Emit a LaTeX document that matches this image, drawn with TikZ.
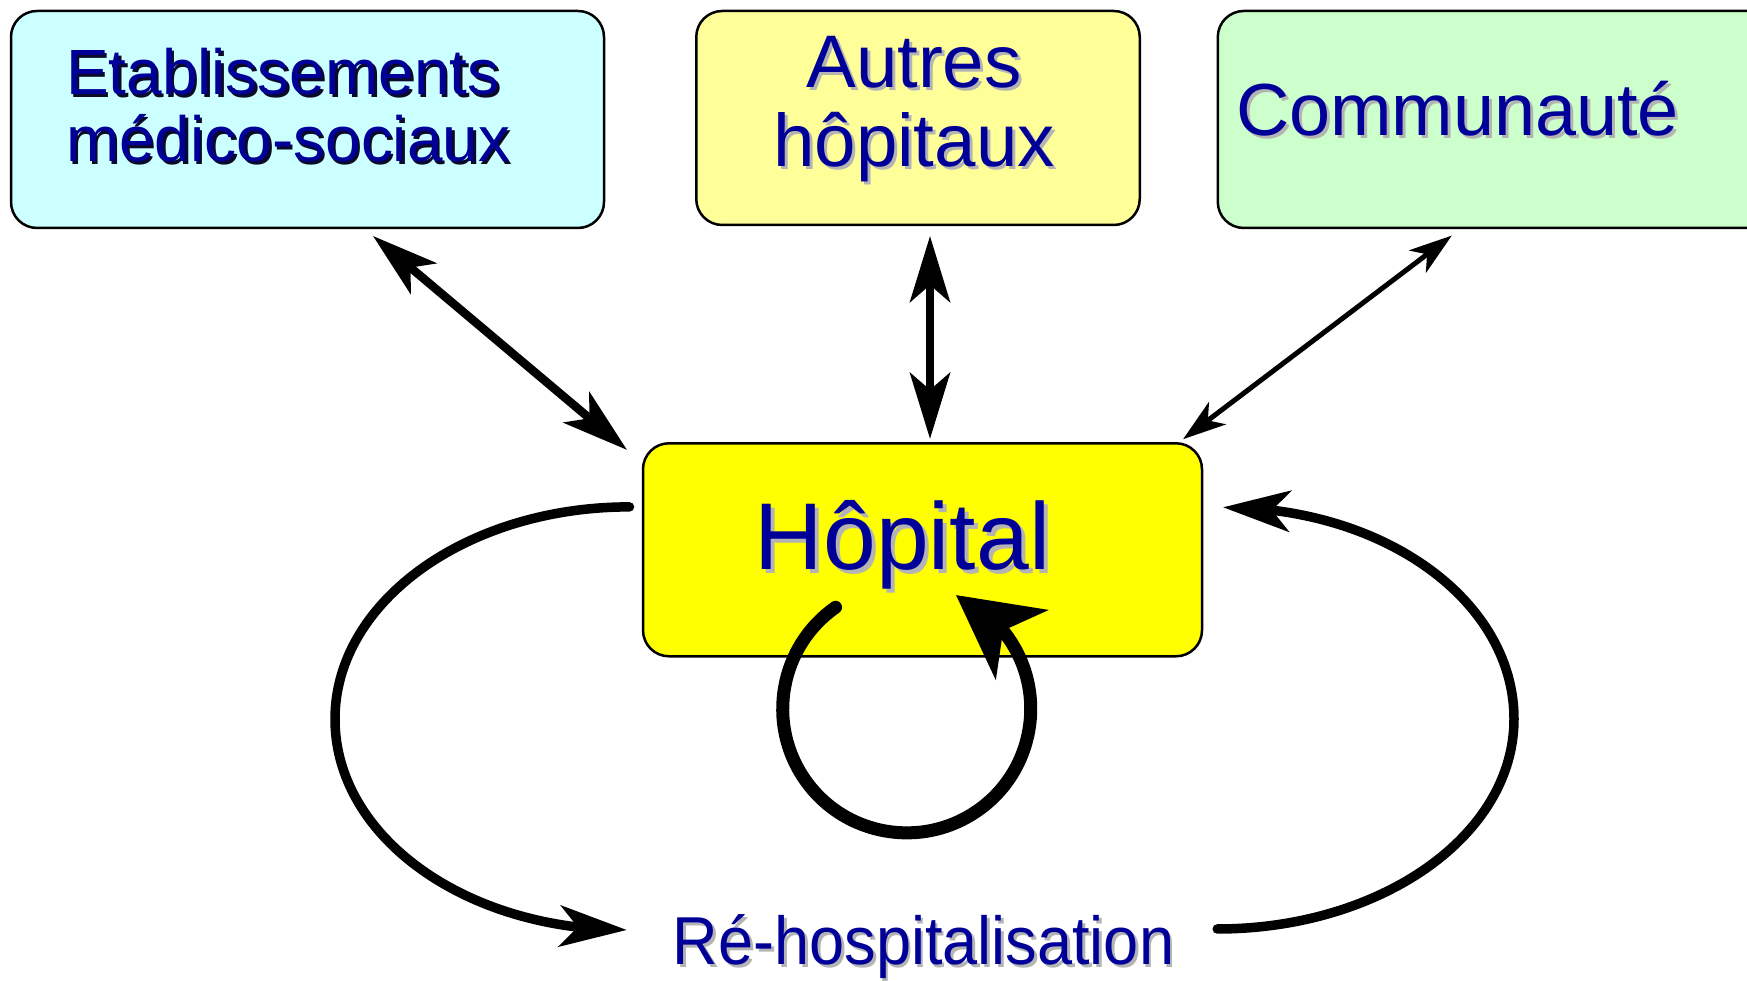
\documentclass[tikz,border=0pt]{standalone}
\usepackage{fontspec}
\setmainfont{Liberation Sans}
\usetikzlibrary{arrows.meta,bending}
\definecolor{txtblue}{RGB}{0,0,153}
\definecolor{shgrey}{RGB}{180,180,180}
\definecolor{shdark}{RGB}{10,10,40}
\definecolor{boxcyan}{RGB}{204,255,255}
\definecolor{boxpale}{RGB}{255,255,153}
\definecolor{boxgreen}{RGB}{204,255,204}
\definecolor{boxyellow}{RGB}{255,255,0}
\newcommand{\shtxt}[3]{\leavevmode\rlap{\kern#2\raisebox{-#2}{\textcolor{#1}{#3}}}#3}
\begin{document}
\begin{tikzpicture}[x=0.1mm,y=0.1mm,
  boxstyle/.style={draw=black, line width=0.25mm, rounded corners=2.6mm, inner sep=0, outer sep=0},
  lbl/.style={inner sep=0, outer sep=0, text=txtblue},
  linkbig/.style={line width=0.85mm, arrows={Stealth[length=6.6mm,width=4mm,inset=1.7mm]-Stealth[length=6.6mm,width=4mm,inset=1.7mm]}},
  linksmall/.style={line width=0.5mm, arrows={Stealth[length=4.3mm,width=2.8mm,inset=1.2mm]-Stealth[length=4.3mm,width=2.8mm,inset=1.2mm]}},
  loopline/.style={line width=0.95mm, line cap=round, arrows={-Stealth[length=6.7mm,width=4.1mm,inset=1.8mm]}},
  selfloop/.style={line width=1.3mm, line cap=round, arrows={-Stealth[length=8.2mm,width=8.6mm,inset=2.3mm,flex]}}]

\useasboundingbox (0,0) rectangle (1747,981);

% boxes
\node[boxstyle, fill=boxcyan, minimum width=59.3mm, minimum height=21.7mm] (etab) at (307.5,861.5) {};
\node[boxstyle, fill=boxpale, minimum width=44.35mm, minimum height=21.4mm] (autres) at (918,863) {};
\node[boxstyle, fill=boxgreen, minimum width=58mm, minimum height=21.7mm] (comm) at (1507.8,861.5) {};
\node[boxstyle, fill=boxyellow, minimum width=55.9mm, minimum height=21.3mm] (hosp) at (922.5,431.2) {};

% labels
\node[lbl, anchor=base west, font=\fontsize{18.2pt}{18.2pt}\selectfont] (etabA) at (66,886) {\shtxt{shdark}{0.25mm}{Etablissements}};
\node[lbl, anchor=base west, font=\fontsize{18.2pt}{18.2pt}\selectfont] (etabB) at (66,819) {\shtxt{shdark}{0.25mm}{médico-sociaux}};
\node[lbl, anchor=base, font=\fontsize{21.2pt}{21.2pt}\selectfont] (autresA) at (914,893) {\shtxt{shgrey}{0.3mm}{Autres}};
\node[lbl, anchor=base, font=\fontsize{21.2pt}{21.2pt}\selectfont] (autresB) at (914,814) {\shtxt{shgrey}{0.3mm}{hôpitaux}};
\node[lbl, anchor=base west, font=\fontsize{21pt}{21pt}\selectfont] (commA) at (1236,845) {\shtxt{shgrey}{0.3mm}{Communauté}};
\node[lbl, anchor=base, font=\fontsize{27pt}{27pt}\selectfont] (hospA) at (902.5,411) {\shtxt{shgrey}{0.4mm}{Hôpital}};
\node[lbl, anchor=base, font=\fontsize{19.3pt}{19.3pt}\selectfont] (rehosp) at (923.5,16) {\scalebox{0.93}[1]{\shtxt{shgrey}{0.3mm}{Ré-hospitalisation}}};

% links to the top boxes
\draw[linkbig] ([xshift=36.2mm,yshift=-0.8mm]etab.south west) -- ([xshift=-1.6mm,yshift=-0.66mm]hosp.north west);
\draw[linkbig] ([xshift=1.2mm,yshift=-1.1mm]autres.south) -- ([xshift=0.75mm,yshift=0.44mm]hosp.north);
\draw[linksmall] ([xshift=23.4mm,yshift=-0.76mm]comm.south west) -- ([xshift=-1.89mm,yshift=0.41mm]hosp.north east);

% big loops
\coordinate (lw) at (335,262);
\coordinate (rw) at (1514,262);
\draw[loopline] ([xshift=-1.35mm,yshift=-6.36mm]hosp.north west)
  .. controls +(-163,0) and +(0,117) .. (lw)
  .. controls +(0,-117) and +(-163,0) .. ([xshift=-4.6mm,yshift=3.5mm]rehosp.base west);
\draw[loopline] ([xshift=4.3mm,yshift=3.6mm]rehosp.base east)
  .. controls +(163,0) and +(0,-117) .. (rw)
  .. controls +(0,117) and +(163,0) .. ([xshift=2.1mm,yshift=-6.4mm]hosp.north east);

% self loop
\draw[selfloop] ([xshift=-8.69mm,yshift=4.9mm]hosp.south) arc[start angle=125,end angle=426.6,radius=12.4mm];
\end{tikzpicture}
\end{document}
